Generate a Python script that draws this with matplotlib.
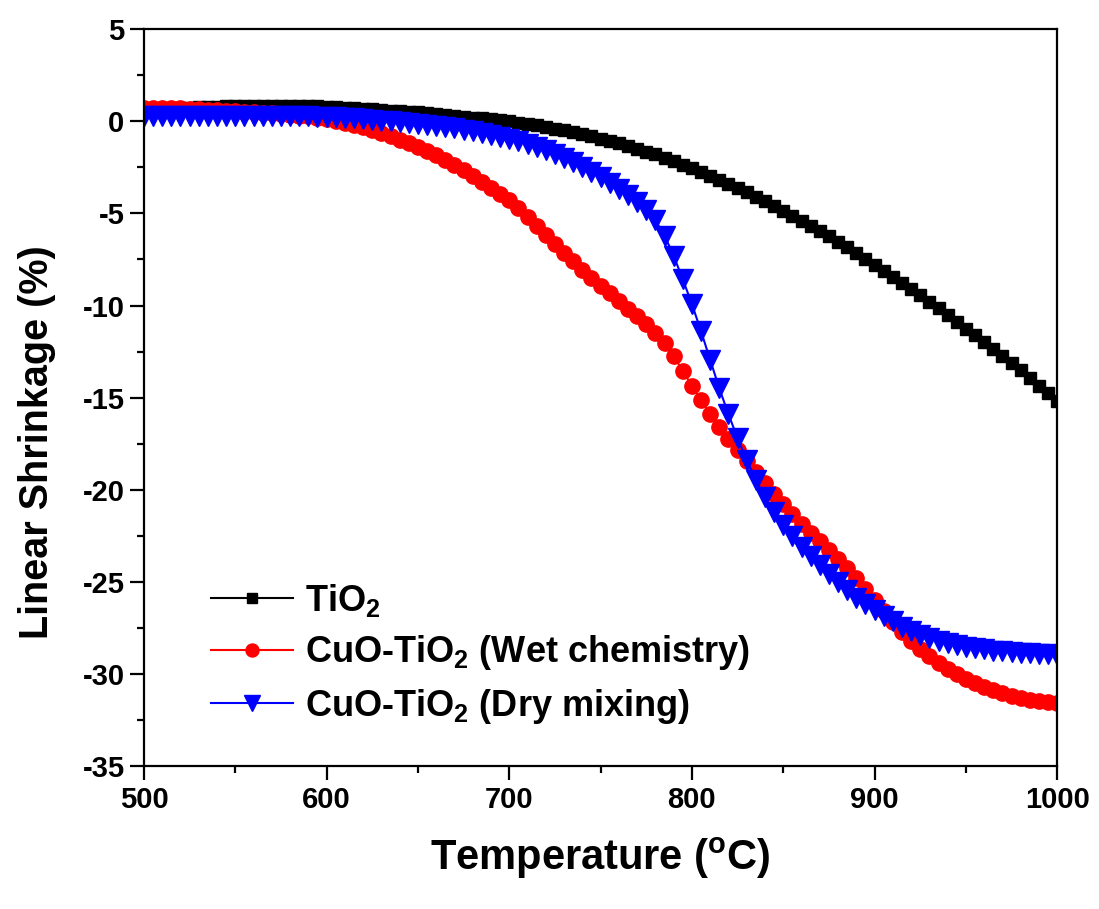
import numpy as np
import matplotlib
matplotlib.use("Agg")
import matplotlib.pyplot as plt
from matplotlib.ticker import MultipleLocator

plt.rcParams["font.family"] = ["Liberation Sans", "DejaVu Sans"]
plt.rcParams["font.weight"] = "bold"
plt.rcParams["axes.unicode_minus"] = False
plt.rcParams["mathtext.fontset"] = "custom"
plt.rcParams["mathtext.rm"] = "Liberation Sans:bold"
plt.rcParams["mathtext.bf"] = "Liberation Sans:bold"
plt.rcParams["mathtext.it"] = "Liberation Sans:bold"

# dilatometry: sampled every 5 degC from 500 to 1000 degC
temperature = np.arange(500, 1001, 5)

tio2 = [
    0.60, 0.63, 0.66, 0.69, 0.72, 0.74, 0.76, 0.78, 0.79, 0.80,
    0.81, 0.82, 0.82, 0.83, 0.83, 0.83, 0.82, 0.82, 0.81, 0.80,
    0.78, 0.76, 0.74, 0.71, 0.68, 0.65, 0.62, 0.58, 0.55, 0.52,
    0.48, 0.44, 0.40, 0.35, 0.30, 0.25, 0.20, 0.15, 0.10, 0.05,
    0.00, -0.07, -0.15, -0.22, -0.30, -0.40, -0.50, -0.60, -0.70, -0.82,
    -0.95, -1.07, -1.20, -1.35, -1.50, -1.65, -1.80, -1.97, -2.15, -2.35,
    -2.55, -2.75, -2.95, -3.17, -3.40, -3.62, -3.85, -4.10, -4.35, -4.60,
    -4.85, -5.12, -5.40, -5.67, -5.95, -6.25, -6.55, -6.85, -7.15, -7.47,
    -7.80, -8.12, -8.45, -8.77, -9.10, -9.45, -9.80, -10.15, -10.50, -10.87,
    -11.25, -11.62, -12.00, -12.37, -12.75, -13.12, -13.50, -13.92, -14.35, -14.77,
    -15.20,
]

cuo_wet = [
    0.70, 0.70, 0.70, 0.70, 0.70, 0.67, 0.65, 0.62, 0.60, 0.57,
    0.55, 0.52, 0.50, 0.47, 0.43, 0.40, 0.36, 0.31, 0.26, 0.19,
    0.11, 0.02, -0.08, -0.20, -0.33, -0.48, -0.64, -0.81, -1.00, -1.20,
    -1.41, -1.62, -1.85, -2.10, -2.37, -2.66, -2.96, -3.27, -3.60, -3.95,
    -4.30, -4.72, -5.18, -5.68, -6.18, -6.68, -7.15, -7.60, -8.05, -8.48,
    -8.92, -9.34, -9.76, -10.17, -10.58, -11.00, -11.47, -12.05, -12.75, -13.55,
    -14.35, -15.15, -15.90, -16.60, -17.25, -17.85, -18.45, -19.05, -19.65, -20.22,
    -20.78, -21.32, -21.84, -22.33, -22.80, -23.28, -23.75, -24.22, -24.78, -25.40,
    -26.00, -26.60, -27.18, -27.70, -28.18, -28.62, -29.02, -29.38, -29.70, -29.98,
    -30.24, -30.48, -30.69, -30.88, -31.04, -31.18, -31.30, -31.39, -31.46, -31.51,
    -31.55,
]

cuo_dry = [
    0.30, 0.30, 0.30, 0.30, 0.30, 0.30, 0.30, 0.30, 0.30, 0.30,
    0.30, 0.30, 0.30, 0.29, 0.29, 0.28, 0.28, 0.27, 0.26, 0.25,
    0.24, 0.22, 0.19, 0.15, 0.12, 0.08, 0.04, 0.00, -0.05, -0.10,
    -0.15, -0.20, -0.26, -0.32, -0.39, -0.46, -0.54, -0.62, -0.72, -0.83,
    -0.95, -1.08, -1.23, -1.40, -1.58, -1.78, -1.99, -2.22, -2.46, -2.73,
    -3.02, -3.33, -3.65, -4.00, -4.38, -4.82, -5.38, -6.20, -7.30, -8.58,
    -9.92, -11.40, -12.95, -14.50, -15.90, -17.20, -18.40, -19.45, -20.40, -21.20,
    -21.90, -22.52, -23.08, -23.60, -24.10, -24.58, -25.02, -25.45, -25.85, -26.20,
    -26.52, -26.84, -27.14, -27.42, -27.67, -27.88, -28.05, -28.20, -28.32, -28.43,
    -28.52, -28.60, -28.66, -28.72, -28.77, -28.81, -28.85, -28.88, -28.91, -28.93,
    -28.95,
]

fig = plt.figure(figsize=(10.99, 9.09), dpi=100)
ax = fig.add_axes([0.131, 0.157, 0.831, 0.811])

ax.plot(temperature, tio2, color="black", marker="s", ms=8.5, lw=1.5,
        label=r"TiO$_\mathregular{2}$")
ax.plot(temperature, cuo_wet, color="red", marker="o", ms=11, lw=1.5,
        label=r"CuO-TiO$_\mathregular{2}$ (Wet chemistry)")
ax.plot(temperature, cuo_dry, color="blue", marker="v", ms=14, lw=1.5,
        label=r"CuO-TiO$_\mathregular{2}$ (Dry mixing)")

ax.set_xlim(500, 1000)
ax.set_ylim(-35, 5)
ax.xaxis.set_major_locator(MultipleLocator(100))
ax.xaxis.set_minor_locator(MultipleLocator(50))
ax.yaxis.set_major_locator(MultipleLocator(5))
ax.yaxis.set_minor_locator(MultipleLocator(2.5))
ax.tick_params(which="both", direction="out", width=1.6, top=False, right=False)
ax.tick_params(which="major", length=10, labelsize=21, pad=4)
ax.tick_params(which="minor", length=5)
for lab in ax.get_xticklabels() + ax.get_yticklabels():
    lab.set_fontweight("bold")
for sp in ax.spines.values():
    sp.set_linewidth(1.6)

ax.set_xlabel(r"Temperature ($^\mathregular{o}$C)", fontsize=30, fontweight="bold", labelpad=16)
ax.set_ylabel("Linear Shrinkage (%)", fontsize=28.5, fontweight="bold")
ax.yaxis.set_label_coords(-0.096, 0.44)

# one marker in the middle of each handle line
leg = ax.legend(loc="lower left", bbox_to_anchor=(0.073, 0.055), frameon=False,
                fontsize=26, handlelength=2.27, handletextpad=0.33,
                labelspacing=0.4, borderaxespad=0, borderpad=0, markerscale=0.85)
for t in leg.get_texts():
    t.set_fontweight("bold")

fig.savefig("out.png", dpi=100)
